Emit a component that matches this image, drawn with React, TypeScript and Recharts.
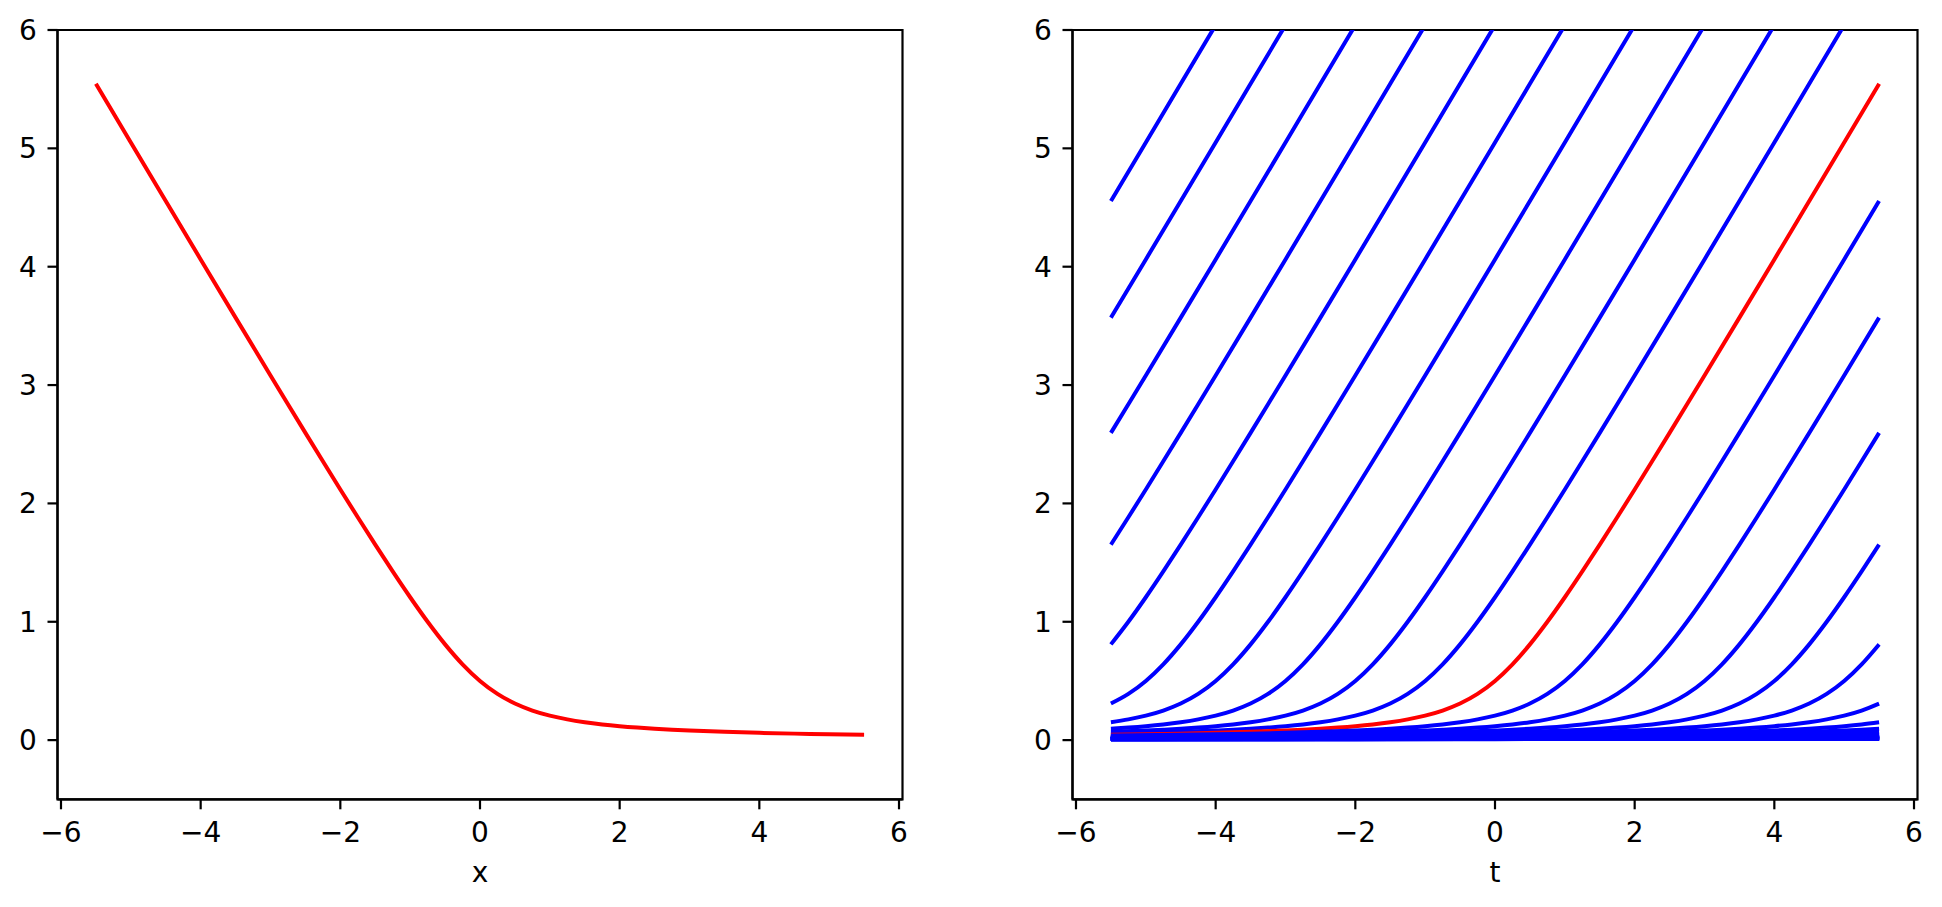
import React from 'react';
import { LineChart, Line, XAxis, YAxis, Label, ReferenceArea } from 'recharts';

const profileX = [
  -7, -6.5, -6, -5.5, -5, -4.5, -4, -3.5, -3, -2.75, -2.5, -2.25, -2, -1.75, -1.5, -1.25, -1,
  -0.75, -0.5, -0.25, 0, 0.25, 0.5, 0.75, 1, 1.25, 1.5, 1.75, 2, 2.25, 2.5, 2.75, 3, 3.5, 4,
  4.5, 5, 5.5, 6.5, 7.5, 8.5, 9.5, 10.5, 11.5, 12.5, 13.5, 14.5, 15.5, 16.5, 17.5, 18.5, 19.5,
  20.5, 21.5, 22.5, 23.5, 24.5, 25.5, 26.5, 27.5, 28.5, 29.5, 30.5, 31.5, 32.5, 33.5, 34.5, 35.5,
];
const profileY = [
  7.0355, 6.5383, 6.0414, 5.5451, 5.0495, 4.5549, 4.0616, 3.57, 3.0811, 2.8381, 2.5963, 2.3561,
  2.118, 1.8828, 1.6514, 1.4254, 1.2071, 1.0, 0.809, 0.6404, 0.5, 0.3904, 0.309, 0.25, 0.2071,
  0.1754, 0.1514, 0.1328, 0.118, 0.1061, 0.0963, 0.0881, 0.0811, 0.07, 0.0616, 0.0549, 0.0495,
  0.0451, 0.0383, 0.0332, 0.0293, 0.0262, 0.0238, 0.0217, 0.02, 0.0185, 0.0172, 0.0161, 0.0151,
  0.0143, 0.0135, 0.0128, 0.0122, 0.0116, 0.0111, 0.0106, 0.0102, 0.0098, 0.0094, 0.0091, 0.0088,
  0.0085, 0.0082, 0.0079, 0.0077, 0.0075, 0.0072, 0.007,
];
// Shifts of the curves in the right panel (0 = red curve)
const shifts = [
  -10, -9, -8, -7, -6, -5, -4, -3, -2, -1, 0, 1, 2, 3, 4, 5, 6, 7, 8, 9, 10, 11, 12, 13, 14, 15,
  16, 17, 18, 19, 20, 21, 22, 23, 24, 25, 26, 27, 28, 29, 30,
];
const xTicks = [-6, -4, -2, 0, 2, 4, 6];
const yTicks = [0, 1, 2, 3, 4, 5, 6];
const xDomain: [number, number] = [-6.05, 6.05];
const yDomain: [number, number] = [-0.5, 6];
const tRange: [number, number] = [-5.5, 5.5];

const leftData = profileX
  .map((x, i) => ({ x, y: profileY[i] }))
  .filter((p) => p.x >= tRange[0] && p.x <= tRange[1]);

const rightSeries = shifts.map((k) => ({
  k,
  data: profileX
    .map((x, i) => ({ t: k - x, y: profileY[i] }))
    .filter((p) => p.t >= tRange[0] - 1e-9 && p.t <= tRange[1] + 1e-9)
    .sort((a, b) => a.t - b.t),
}));

const FONT = 'DejaVu Sans, sans-serif';
const fmt = (v: number) => (v < 0 ? '\u2212' + Math.abs(v) : String(v));
const tickStyle = { fill: '#000', fontSize: 28, fontFamily: FONT };
const lineStyle = { stroke: '#000', strokeWidth: 2.2 };

const W = 950;
const H = 907;
const margin = { top: 30, right: 47.5, left: 0, bottom: 25.3 };

function axes(xKey: string, label: string) {
  return [
    <XAxis
      key="xb"
      xAxisId="b"
      dataKey={xKey}
      type="number"
      domain={xDomain}
      ticks={xTicks}
      tickFormatter={fmt}
      allowDataOverflow
      height={82.4}
      tickSize={10}
      tickMargin={12.8}
      tick={tickStyle}
      axisLine={lineStyle}
      tickLine={lineStyle}
    >
      <Label value={label} position="insideBottom" offset={0} fill="#000" fontSize={28} fontFamily={FONT} />
    </XAxis>,
    <YAxis
      key="yl"
      yAxisId="l"
      type="number"
      domain={yDomain}
      ticks={yTicks}
      allowDataOverflow
      width={57.5}
      tickSize={10}
      tickMargin={10.6}
      tick={tickStyle}
      axisLine={lineStyle}
      tickLine={lineStyle}
    />,
  ];
}

function frame() {
  return (
    <ReferenceArea
      xAxisId="b"
      yAxisId="l"
      x1={xDomain[0]}
      x2={xDomain[1]}
      y1={yDomain[0]}
      y2={yDomain[1]}
      fill="none"
      fillOpacity={0}
      stroke="#000"
      strokeWidth={2.2}
      ifOverflow="visible"
    />
  );
}

export default function App() {
  return (
    <div style={{ position: 'absolute', left: 0, top: 0, width: 1942, height: 907, background: '#fff' }}>
      <div style={{ position: 'absolute', left: 0, top: 0 }}>
        <LineChart width={W} height={H} margin={margin}>
          {axes('x', 'x')}
          <Line
            xAxisId="b"
            yAxisId="l"
            data={leftData}
            dataKey="y"
            type="monotone"
            stroke="#ff0000"
            strokeWidth={4}
            dot={false}
            activeDot={false}
            isAnimationActive={false}
          />
          {frame()}
        </LineChart>
      </div>
      <div style={{ position: 'absolute', left: 1015.2, top: 0 }}>
        <LineChart width={W} height={H} margin={margin}>
          {axes('t', 't')}
          {rightSeries.map((s) => (
            <Line
              key={s.k}
              xAxisId="b"
              yAxisId="l"
              data={s.data}
              dataKey="y"
              type="monotone"
              stroke={s.k === 0 ? '#ff0000' : '#0000ff'}
              strokeWidth={4}
              dot={false}
              activeDot={false}
              isAnimationActive={false}
            />
          ))}
          {frame()}
        </LineChart>
      </div>
    </div>
  );
}
